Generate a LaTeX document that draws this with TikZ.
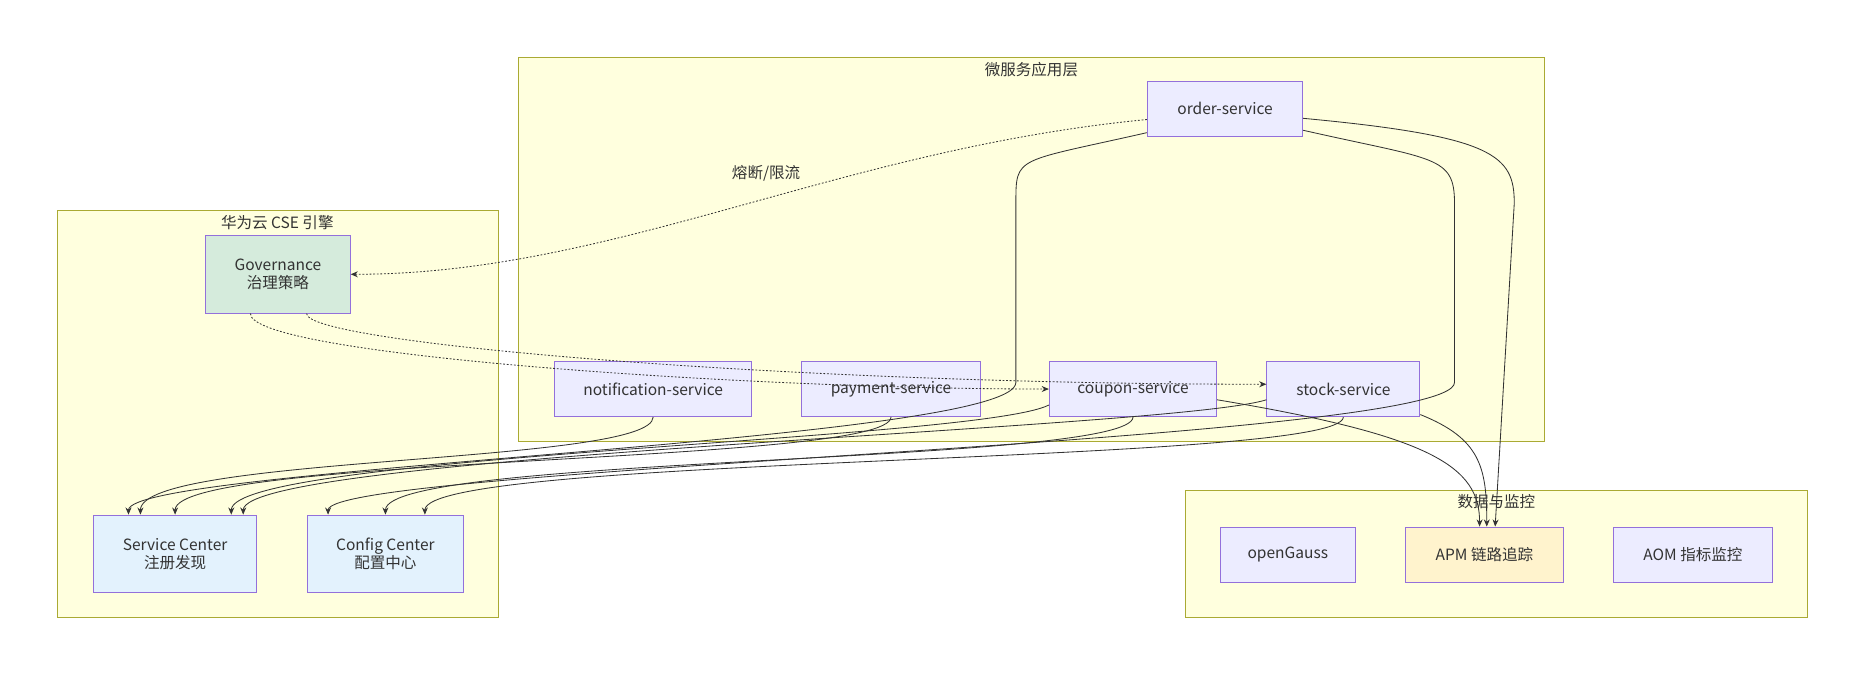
\documentclass[tikz,border=0pt]{standalone}
\usepackage{fontspec}
\setmainfont{Noto Sans CJK SC}
\usetikzlibrary{arrows.meta,calc}
\definecolor{clfill}{HTML}{FFFFDE}
\definecolor{cldraw}{HTML}{AAAA33}
\definecolor{ndfill}{HTML}{ECECFF}
\definecolor{nddraw}{HTML}{9370DB}
\definecolor{govfill}{HTML}{D5EBDC}
\definecolor{ctrfill}{HTML}{E3F2FD}
\definecolor{apmfill}{HTML}{FFF3CD}
\definecolor{lnk}{HTML}{333333}
\tikzset{
  cluster/.style={draw=cldraw, fill=clfill, line width=0.8pt},
  cltitle/.style={font=\fontsize{13}{15}\selectfont, text=lnk},
  svc/.style={draw=nddraw, fill=ndfill, line width=0.8pt, minimum height=46pt,
    font=\fontsize{13}{15}\selectfont, text=lnk, align=center},
  flow/.style={draw=lnk, line width=0.7pt, -{Stealth[length=6pt,width=5pt]}},
  ctl/.style={flow, dash pattern=on 1.5pt off 1.5pt},
}
\begin{document}
\begin{tikzpicture}[x=1pt, y=-1pt]
\useasboundingbox (0,0) rectangle (1568,568);
% groups
\path[cluster] (434,48) rectangle (1292,369);
\node[cltitle] (tapp) at (863,58) {微服务应用层};
\path[cluster] (48,176) rectangle (417,517);
\node[cltitle] (tcse) at (232,186) {华为云 CSE 引擎};
\path[cluster] (992,410) rectangle (1512,517);
\node[cltitle] (tdata) at (1252,420) {数据与监控};
% nodes
\node[svc, minimum width=130pt] (order) at (1025,91) {order-service};
\node[svc, minimum width=165pt] (notify) at (546.5,325.5) {notification-service};
\node[svc, minimum width=149pt] (pay) at (745.5,325.5) {payment-service};
\node[svc, minimum width=140pt] (coupon) at (948,325.5) {coupon-service};
\node[svc, minimum width=128pt] (stock) at (1124,325.5) {stock-service};
\node[svc, fill=govfill, minimum width=121pt, minimum height=65pt] (gov) at (232.5,229.5) {Governance\\治理策略};
\node[svc, fill=ctrfill, minimum width=137pt, minimum height=65pt] (sc) at (146.5,463.5) {Service Center\\注册发现};
\node[svc, fill=ctrfill, minimum width=131pt, minimum height=65pt] (cc) at (322.5,463.5) {Config Center\\配置中心};
\node[svc, minimum width=113pt] (og) at (1077.5,464) {openGauss};
\node[svc, fill=apmfill, minimum width=132pt] (apm) at (1242,464) {APM 链路追踪};
\node[svc, minimum width=133pt] (aom) at (1416.5,464) {AOM 指标监控};
% governance
\draw[ctl] ($(order.west)+(0,9)$) .. controls +(-260,25) and +(220,0) ..
  (gov.east);
\node[fill=clfill, inner sep=2pt, font=\fontsize{13}{15}\selectfont, text=lnk] (lblim) at (641,145) {熔断/限流};
\draw[ctl] ($(gov.south)+(-23,0)$) .. controls +(0,35) and +(-250,0) .. (coupon.west);
\draw[ctl] ($(gov.south)+(24,0)$) .. controls +(0,25) and +(-400,0) .. ($(stock.west)+(0,-4)$);
% registration
\draw[flow] ($(order.west)+(0,20)$) .. controls +(-110,25) and +(0,-40) .. (850,170) -- (850,320)
  .. controls +(0,50) and +(0,-40) .. ($(sc.north)+(-39,0)$);
\draw[flow] (notify.south) .. controls +(0,40) and +(0,-50) .. ($(sc.north)+(-29,0)$);
\draw[flow] (pay.south) .. controls +(0,40) and +(0,-50) .. ($(sc.north)+(0,0)$);
\draw[flow] ($(coupon.south west)+(0,-10)$) .. controls +(-60,30) and +(0,-50) .. ($(sc.north)+(47,0)$);
\draw[flow] ($(stock.west)+(0,9)$) .. controls +(-80,25) and +(0,-50) .. ($(sc.north)+(57,0)$);
\draw[flow] ($(order.east)+(0,18)$) .. controls +(110,25) and +(0,-40) .. (1217,170) -- (1217,320)
  .. controls +(0,50) and +(0,-40) .. ($(cc.north)+(-48,0)$);
\draw[flow] (coupon.south) .. controls +(0,40) and +(0,-50) .. (cc.north);
\draw[flow] (stock.south) .. controls +(0,40) and +(0,-50) .. ($(cc.north)+(33,0)$);
% tracing
\draw[flow] ($(coupon.east)+(0,9)$) .. controls +(180,30) and +(0,-50) .. ($(apm.north)+(-4,0)$);
\draw[flow] ($(stock.south east)+(0,-2)$) .. controls +(50,20) and +(0,-50) .. ($(apm.north)+(2,0)$);
\draw[flow] ($(order.east)+(0,8)$) .. controls +(160,15) and +(0,-40) .. (1267,170) -- ($(apm.north)+(9,0)$);
\end{tikzpicture}
\end{document}
